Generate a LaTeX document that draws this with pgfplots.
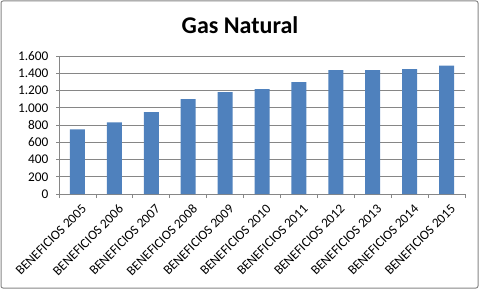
\documentclass[border=0pt]{standalone}
\usepackage{fontspec}
\setmainfont{Carlito}
\usepackage{pgfplots}
\pgfplotsset{compat=1.18}
\definecolor{barblue}{HTML}{4F81BD}
\definecolor{gridgray}{HTML}{868686}
\begin{document}
\begin{tikzpicture}[x=1pt,y=1pt]
\path[use as bounding box] (0,0) rectangle (481,289);
\draw[gridgray, line width=1pt, rounded corners=2pt] (1,1) rectangle (478,288);
\node[font=\fontsize{24}{28}\selectfont\bfseries] at (240,264) {Gas Natural};
\begin{axis}[
  at={(59pt,95pt)}, anchor=south west, scale only axis,
  width=406pt, height=138pt,
  xmin=-0.5, xmax=10.5, ymin=0, ymax=1600,
  ytick={0,200,...,1600},
  xtick={0,...,10},
  xticklabels={BENEFICIOS 2005,BENEFICIOS 2006,BENEFICIOS 2007,BENEFICIOS 2008,BENEFICIOS 2009,BENEFICIOS 2010,BENEFICIOS 2011,BENEFICIOS 2012,BENEFICIOS 2013,BENEFICIOS 2014,BENEFICIOS 2015},
  minor xtick={-0.5,0.5,...,10.5},
  axis x line*=bottom, axis y line*=left,
  axis line style={gridgray, line width=0.8pt, -},
  tick align=outside,
  major tick length=3pt, minor tick length=4pt,
  x tick style={draw=none},
  minor x tick style={draw=gridgray, line width=0.8pt},
  y tick style={draw=gridgray, line width=0.8pt},
  ymajorgrids, major grid style={gridgray, line width=0.8pt},
  /pgf/number format/.cd, 1000 sep={.}, assume math mode=true,
  /pgfplots/.cd,
  y tick label style={font=\fontsize{13.3}{15}\selectfont, xshift=-4pt},
  x tick label style={font=\fontsize{13.3}{15}\selectfont, rotate=45, anchor=north east, inner sep=1pt, yshift=-6pt, xshift=-1pt},
  ybar, bar width=15pt,
]
\addplot[fill=barblue, draw=none] coordinates {
(0,750) (1,831) (2,948) (3,1099) (4,1181) (5,1216) (6,1297) (7,1437) (8,1437) (9,1449) (10,1487)};
\end{axis}
\end{tikzpicture}
\end{document}
